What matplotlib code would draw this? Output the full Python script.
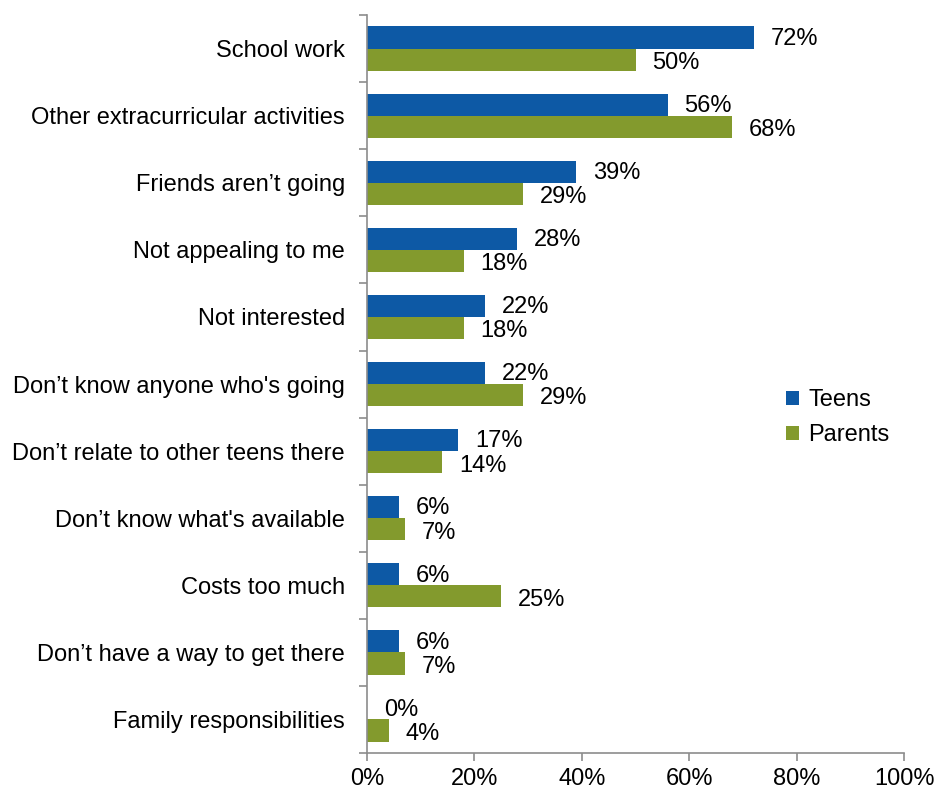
import matplotlib.pyplot as plt
import numpy as np

plt.rcParams['font.family'] = ['Liberation Sans', 'DejaVu Sans']

categorias = [
    "School work",
    "Other extracurricular activities",
    "Friends aren\u2019t going",
    "Not appealing to me",
    "Not interested",
    "Don\u2019t know anyone who's going",
    "Don\u2019t relate to other teens there",
    "Don\u2019t know what's available",
    "Costs too much",
    "Don\u2019t have a way to get there",
    "Family responsibilities",
]
teens = [72, 56, 39, 28, 22, 22, 17, 6, 6, 6, 0]
parents = [50, 68, 29, 18, 18, 29, 14, 7, 25, 7, 4]

azul = '#0D59A5'
verde = '#839A2D'
gris = '#8C8C8C'
fs = 17

fig = plt.figure(figsize=(9.37, 7.93), dpi=100)
ax = fig.add_axes([0.3917, 0.0504, 0.5731, 0.9306])

y = np.arange(len(categorias))
alto = 0.33
b1 = ax.barh(y - alto / 2, teens, height=alto, color=azul, label='Teens')
b2 = ax.barh(y + alto / 2, parents, height=alto, color=verde, label='Parents')

# etiquetas de valor a la derecha de cada barra
for barras, valores, dy in ((b1, teens, 0.02), (b2, parents, 0.05)):
    for barra, v in zip(barras, valores):
        ax.annotate(f"{v}%", (v, barra.get_y() + barra.get_height() / 2 + dy),
                    xytext=(12, 0), textcoords='offset points',
                    va='center', ha='left', fontsize=fs)

ax.set_xlim(0, 100)
ax.set_ylim(len(categorias) - 0.5, -0.5)
ax.set_xticks(np.arange(0, 101, 20))
ax.set_xticklabels([f"{t}%" for t in range(0, 101, 20)], fontsize=fs)

ax.set_yticks(y)
ax.set_yticklabels(categorias, fontsize=fs)
ax.tick_params(axis='y', which='major', length=0, pad=16)
ax.set_yticks(np.arange(-0.5, len(categorias)), minor=True)
ax.tick_params(axis='y', which='minor', length=6, color=gris, width=1.2)
ax.tick_params(axis='x', length=6, color=gris, width=1.2, pad=5)

for lado in ('top', 'right'):
    ax.spines[lado].set_visible(False)
for lado in ('left', 'bottom'):
    ax.spines[lado].set_color(gris)
    ax.spines[lado].set_linewidth(1.2)

ax.legend(loc='upper left', bbox_to_anchor=(0.78, 0.493), frameon=False,
          fontsize=fs, handlelength=0.55, handleheight=0.55, handletextpad=0.4,
          labelspacing=0.55, borderaxespad=0, borderpad=0)

fig.savefig('out.png', dpi=100)
